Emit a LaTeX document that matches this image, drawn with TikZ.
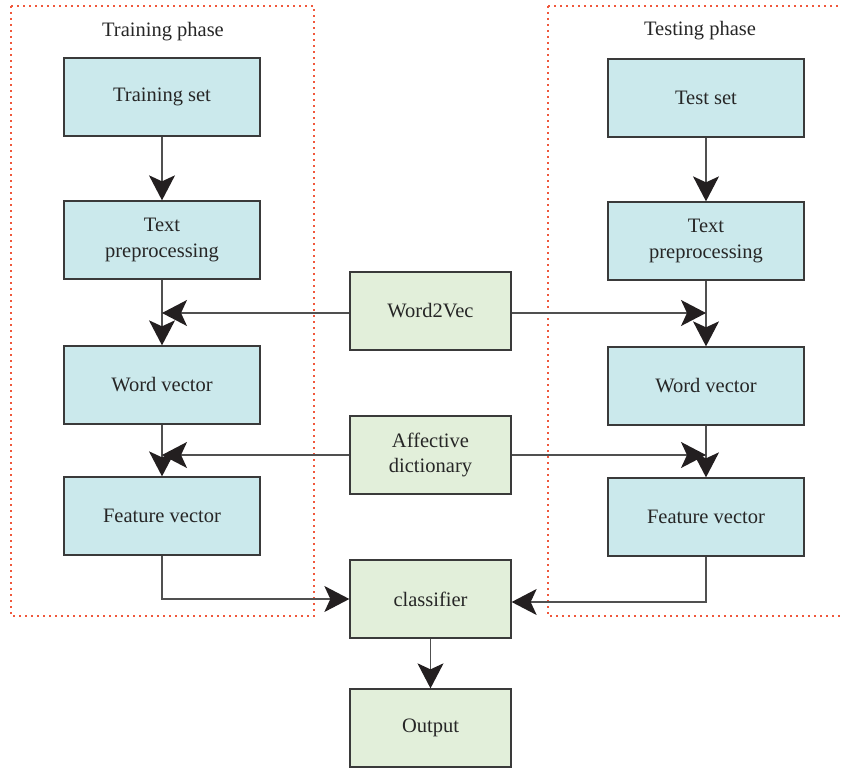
\documentclass[tikz,border=0pt]{standalone}
\usepackage{fontspec}
\setmainfont{Liberation Serif}
\usetikzlibrary{arrows.meta}
\definecolor{boxblue}{HTML}{CBE9EC}
\definecolor{boxgreen}{HTML}{E2EFDA}
\definecolor{edge}{HTML}{3A3A3A}
\definecolor{wire}{HTML}{505050}
\definecolor{tipcol}{HTML}{231F20}
\definecolor{phase}{HTML}{F0583C}
\tikzset{
  box/.style={draw=edge, line width=1.3bp, minimum width=196bp, minimum height=78bp,
    align=center, font=\fontsize{20.5bp}{25.5bp}\selectfont, text=black!85, inner sep=0pt},
  bluebox/.style={box, fill=boxblue},
  greenbox/.style={box, fill=boxgreen, minimum width=161bp},
  arr/.style={draw=wire, line width=1.3bp,
    -{Stealth[length=25bp, width=26bp, inset=6bp, color=tipcol, fill=tipcol]}},
  phasebox/.style={draw=phase, line width=1.6bp, dash pattern=on 1.6bp off 4.4bp},
  phaselabel/.style={font=\fontsize{20.5bp}{25bp}\selectfont, text=black!85}
}
\begin{document}
\begin{tikzpicture}[x=1bp, y=-1bp]
  \useasboundingbox (0,0) rectangle (843,769);
  % phase frames
  \draw[phasebox] (11,6) rectangle (314,616);
  \draw[phasebox] (548,6) -- (842,6);
  \draw[phasebox] (548,6) -- (548,616) -- (842,616);
  \node[phaselabel] (trlabel) at (163,32) {Training phase};
  \node[phaselabel] (telabel) at (700,31) {Testing phase};

  % training column
  \node[bluebox] (trset) at (162,97) {Training set};
  \node[bluebox] (trpre) at (162,240) {Text\\preprocessing};
  \node[bluebox] (trword) at (162,385) {Word vector};
  \node[bluebox] (trfeat) at (162,516) {Feature vector};

  % testing column
  \node[bluebox] (teset) at (706,98) {Test set};
  \node[bluebox] (tepre) at (706,241) {Text\\preprocessing};
  \node[bluebox] (teword) at (706,386) {Word vector};
  \node[bluebox] (tefeat) at (706,517) {Feature vector};

  % shared components
  \node[greenbox] (w2v) at (430.5,311) {Word2Vec};
  \node[greenbox] (affect) at (430.5,455) {Affective\\dictionary};
  \node[greenbox] (clf) at (430.5,599) {classifier};
  \node[greenbox] (out) at (430.5,728) {Output};

  % vertical flow
  \draw[arr] (trset) -- (trpre);
  \draw[arr] (trpre) -- (trword);
  \draw[arr] (trword) -- (trfeat);
  \draw[arr] (teset) -- (tepre);
  \draw[arr] (tepre) -- (teword);
  \draw[arr] (teword) -- (tefeat);

  % side inputs
  \draw[arr] ([yshift=-2bp]w2v.west) -- ([yshift=-2bp]w2v.west -| trpre.south);
  \draw[arr] ([yshift=-2bp]w2v.east) -- ([yshift=-2bp]w2v.east -| tepre.south);
  \draw[arr] (affect.west) -- (affect.west -| trword.south);
  \draw[arr] (affect.east) -- (affect.east -| teword.south);

  % classification
  \draw[arr] (trfeat.south) |- (clf.west);
  \draw[arr] (tefeat.south) |- ([yshift=-3bp]clf.east);
  \draw[arr] (clf) -- (out);
\end{tikzpicture}
\end{document}
